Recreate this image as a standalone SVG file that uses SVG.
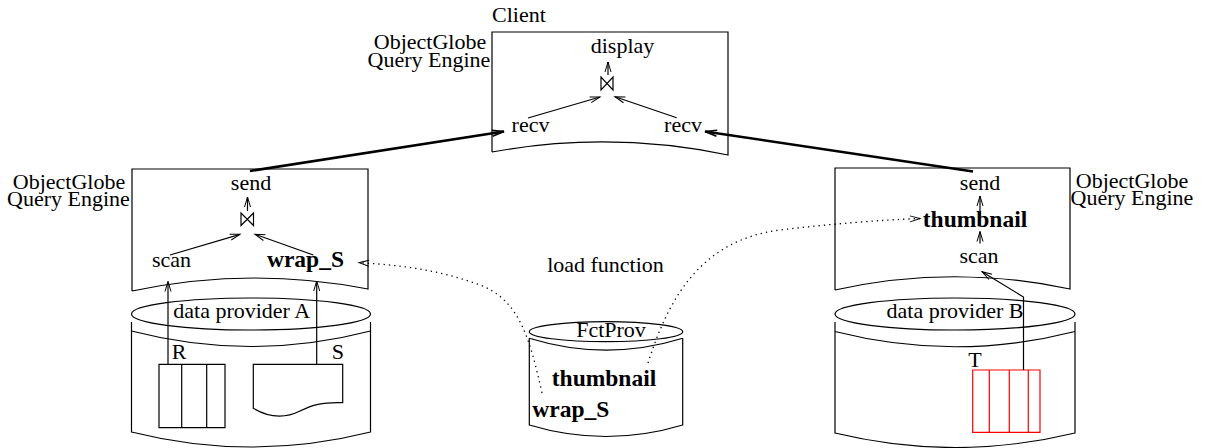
<svg xmlns="http://www.w3.org/2000/svg" width="1205" height="448" viewBox="0 0 1205 448">
<style>
text{font-family:"Liberation Serif","Times New Roman",serif;font-size:22px;fill:#000}
.b{font-weight:bold;font-size:23.5px}
.m{text-anchor:middle}
.ln{fill:none;stroke:#000;stroke-width:1.2}
.th{fill:none;stroke:#000;stroke-width:2.5}
.dot{fill:none;stroke:#000;stroke-width:1.3;stroke-dasharray:1.3 4}
.red{fill:none;stroke:#f00;stroke-width:1.2}
</style>
<defs>
<marker id="a" markerUnits="userSpaceOnUse" markerWidth="12" markerHeight="8" refX="10" refY="4" orient="auto" overflow="visible">
<path d="M0,1 L10,4 L0,7" fill="none" stroke="#000" stroke-width="1"/>
</marker>
<marker id="at" markerUnits="userSpaceOnUse" markerWidth="14" markerHeight="8" refX="12" refY="4" orient="auto" overflow="visible">
<path d="M0,1 L12,4 L0,7" fill="none" stroke="#000" stroke-width="1.6"/>
</marker>
</defs>

<g id="client">
<text x="492" y="22">Client</text>
<text class="m" x="430" y="49">ObjectGlobe<tspan x="429" dy="17.5">Query Engine</tspan></text>
<path class="ln" d="M492,152 V32 H728 V155 Q610,130.5 492,152"/>
<text class="m" x="622.5" y="53">display</text>
<path class="ln" d="M601,77 V90 L613,77 V90 Z"/>
<text class="m" x="530.5" y="132">recv</text>
<text class="m" x="683" y="132">recv</text>
</g>

<g id="engineA">
<text class="m" x="69" y="189">ObjectGlobe<tspan x="68.5" dy="17">Query Engine</tspan></text>
<path class="ln" d="M132,291 V169 H368 V289 Q250,266 132,291"/>
<text class="m" x="251" y="190">send</text>
<path class="ln" d="M241,213 V225.5 L253.5,213 V225.5 Z"/>
<text class="m" x="171.5" y="267">scan</text>
<text class="m b" x="305.5" y="267">wrap_S</text>
</g>

<g id="engineB">
<text class="m" x="1132" y="187.5">ObjectGlobe<tspan x="1132" dy="17.5">Query Engine</tspan></text>
<path class="ln" d="M835,290 V168 H1070 V289 Q952,264 835,290"/>
<text class="m" x="980" y="190">send</text>
<text class="m b" x="975" y="226.7">thumbnail</text>
<text class="m" x="979" y="263">scan</text>
</g>

<g id="providerA">
<ellipse class="ln" cx="251" cy="314" rx="119.5" ry="16"/>
<path class="ln" d="M131.5,331 Q251,362 370.5,331 M131.5,322 V432 Q251,462 370.5,432 V322"/>
<text class="m" x="241.7" y="318">data provider A</text>
<text x="171.7" y="359">R</text>
<text x="331.7" y="359">S</text>
<path class="ln" d="M159,364.3 H225 V427.7 H159 Z M181.7,364.3 V427.7 M206.7,364.3 V427.7"/>
<path class="ln" d="M253.3,364.3 H342.7 V402.7 C322,402 312,405 300,411 C284,419 268,417 253.3,408.3 Z"/>
</g>

<g id="fctprov">
<ellipse class="ln" cx="606" cy="331.7" rx="76.7" ry="10"/>
<path class="ln" d="M529.3,338.3 Q606,362 682.7,338.3 M529.3,338 V425 Q606,448 682.7,425 V338"/>
<text class="m" x="611" y="336.7">FctProv</text>
<text class="m b" x="604" y="386">thumbnail</text>
<text class="b" x="532.3" y="416.7">wrap_S</text>
</g>

<g id="providerB">
<ellipse class="ln" cx="955" cy="314" rx="120" ry="16"/>
<path class="ln" d="M835,331.5 Q955,362 1075,331.5 M835,322 V433 Q955,462 1075,433 V322"/>
<text class="m" x="955" y="318">data provider B</text>
<text x="968.3" y="367">T</text>
<path class="red" d="M972.7,370 H1040 V432.3 H972.7 Z M989.3,370 V432.3 M1009.3,370 V432.3 M1028.3,370 V432.3"/>
</g>

<text id="loadfn" class="m" x="605.5" y="272">load function</text>

<g id="connectors">
<path class="th" d="M250,171 L504,131.5" marker-end="url(#at)"/>
<path class="th" d="M973,171.5 L705,131.5" marker-end="url(#at)"/>
<path class="ln" d="M608,75 V62" marker-end="url(#a)"/>
<path class="ln" d="M528,118 L600,97" marker-end="url(#a)"/>
<path class="ln" d="M676.7,117.7 L615,96.7" marker-end="url(#a)"/>
<path class="ln" d="M247.5,211 V197" marker-end="url(#a)"/>
<path class="ln" d="M170,255 L240,234.3" marker-end="url(#a)"/>
<path class="ln" d="M313.3,255 L255,234.3" marker-end="url(#a)"/>
<path class="ln" d="M168,364.3 V281.5" marker-end="url(#a)"/>
<path class="ln" d="M316.7,364.3 V281" marker-end="url(#a)"/>
<path class="ln" d="M980,243.5 V231.5" marker-end="url(#a)"/>
<path class="ln" d="M980,219 V196" marker-end="url(#a)"/>
<path class="ln" d="M1023.5,370 V297 L982,271.7" marker-end="url(#a)"/>
<path class="dot" d="M542,393 C530,340 520,300 480,285 C440,270 400,265 359,262.7" marker-end="url(#a)"/>
<path class="dot" d="M648,363 C668,300 700,240 780,230 C830,224 880,220 920,218.5" marker-end="url(#a)"/>
</g>
</svg>
